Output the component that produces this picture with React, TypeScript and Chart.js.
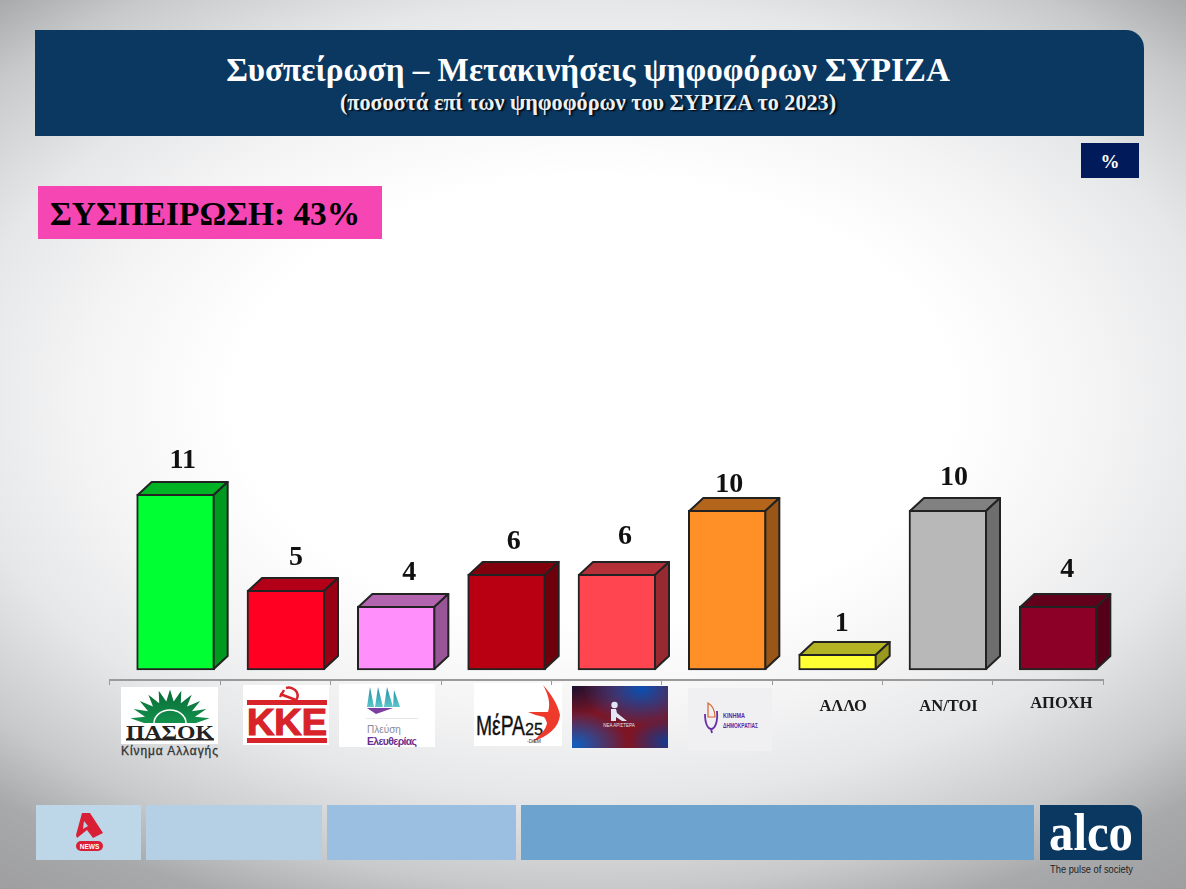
import { useEffect, useRef } from 'react';
import { Chart, registerables } from 'chart.js';

Chart.register(...registerables);

const categories = ['ΠΑΣΟΚ', 'ΚΚΕ', 'Πλεύση Ελευθερίας', 'ΜέΡΑ25', 'Νέα Αριστερά', 'Κίνημα Δημοκρατίας', 'ΑΛΛΟ', 'ΑΝ/ΤΟΙ', 'ΑΠΟΧΗ'];
const values = [11, 5, 4, 6, 6, 10, 1, 10, 4];
const barColors = ['#00ff33', '#ff0022', '#ff8ffa', '#b80012', '#ff4550', '#ff9027', '#ffff33', '#b8b8b8', '#8c0028'];

// the source slide has hand placed labels, so each one gets its own nudge
const valueNudgeX = [0, 3, 6, 0, 1, -5, -3, -1, 2];
const valueNudgeY = [0, 1, 0, 1, -4, 8, 3, 1, -3];
const textLabelNudgeX = [0, 0, 0, 0, 0, 0, 16, 11, 13.5];
const textLabelY = [0, 0, 0, 0, 0, 0, 707, 707, 704];

const SERIF = '"Liberation Serif", "DejaVu Serif", serif';
const SANS = '"Liberation Sans", Arial, sans-serif';
const FRONT_SHIFT = 10.5;
const DEPTH_X = 14;
const DEPTH_Y = 13;

function shade(hex: string, k: number) {
  const n = parseInt(hex.slice(1), 16);
  const r = Math.round(((n >> 16) & 255) * k);
  const g = Math.round(((n >> 8) & 255) * k);
  const b = Math.round((n & 255) * k);
  return `rgb(${r},${g},${b})`;
}

// front faces are the library's bars, moved a little right; the 3D sides hang off them
const box3d = {
  id: 'box3d',
  beforeDatasetDraw(chart: any) {
    chart.ctx.save();
    chart.ctx.translate(FRONT_SHIFT, 0);
  },
  afterDatasetDraw(chart: any) {
    const ctx = chart.ctx;
    ctx.lineWidth = 2;
    ctx.lineJoin = 'round';
    ctx.strokeStyle = '#222';
    chart.getDatasetMeta(0).data.forEach((el: any, i: number) => {
      const left = el.x - el.width / 2 + 1;
      const right = el.x + el.width / 2 - 1;
      const top = el.y + 1;
      const bottom = el.base - 1;

      ctx.fillStyle = shade(barColors[i], 0.7);
      ctx.beginPath();
      ctx.moveTo(left, top);
      ctx.lineTo(left + DEPTH_X, top - DEPTH_Y);
      ctx.lineTo(right + DEPTH_X, top - DEPTH_Y);
      ctx.lineTo(right, top);
      ctx.closePath();
      ctx.fill();
      ctx.stroke();

      ctx.fillStyle = shade(barColors[i], 0.6);
      ctx.beginPath();
      ctx.moveTo(right, top);
      ctx.lineTo(right + DEPTH_X, top - DEPTH_Y);
      ctx.lineTo(right + DEPTH_X, bottom - DEPTH_Y);
      ctx.lineTo(right, bottom);
      ctx.closePath();
      ctx.fill();
      ctx.stroke();
    });
    ctx.restore();
  },
  afterDraw(chart: any) {
    const ctx = chart.ctx;
    ctx.save();
    ctx.textAlign = 'center';
    ctx.textBaseline = 'middle';
    ctx.fillStyle = '#111';
    ctx.font = `bold 28px ${SERIF}`;
    chart.getDatasetMeta(0).data.forEach((el: any, i: number) => {
      const x = el.x + FRONT_SHIFT + 7 + valueNudgeX[i];
      const y = el.y - DEPTH_Y - 20 + valueNudgeY[i];
      ctx.fillText(String(values[i]), x, y);
    });
    ctx.font = `bold 16.5px ${SERIF}`;
    ctx.fillStyle = '#1a1a1a';
    categories.forEach((name, i) => {
      if (!textLabelY[i]) return; // the first six are logos
      ctx.fillText(name, chart.scales.x.getPixelForValue(i) + textLabelNudgeX[i], textLabelY[i]);
    });
    ctx.restore();
  },
};

function Logos() {
  const rays: string[] = [];
  for (let i = 0; i <= 22; i++) {
    const a = Math.PI + (i / 22) * Math.PI;
    const r = i % 2 === 1 ? 40 : 26;
    rays.push(`${170 + r * Math.cos(a)},${723 + r * 0.84 * Math.sin(a)}`);
  }
  return (
    <svg width={1186} height={889} style={{ position: 'absolute', left: 0, top: 0 }}>
      <defs>
        <radialGradient id="naBlueA" cx="0.72" cy="0.05" r="0.6">
          <stop offset="0" stopColor="#0a4fb0" />
          <stop offset="1" stopColor="#0a4fb0" stopOpacity="0" />
        </radialGradient>
        <radialGradient id="naBlueB" cx="0.03" cy="0.95" r="0.55">
          <stop offset="0" stopColor="#0f5fc0" />
          <stop offset="1" stopColor="#0f5fc0" stopOpacity="0" />
        </radialGradient>
        <radialGradient id="naBlueC" cx="1" cy="0.9" r="0.4">
          <stop offset="0" stopColor="#123c90" />
          <stop offset="1" stopColor="#123c90" stopOpacity="0" />
        </radialGradient>
        <radialGradient id="naDark" cx="0" cy="0" r="0.5">
          <stop offset="0" stopColor="#1a1030" />
          <stop offset="1" stopColor="#1a1030" stopOpacity="0" />
        </radialGradient>
        <linearGradient id="sail" x1="0" y1="0" x2="0" y2="1">
          <stop offset="0" stopColor="#1f8fa6" />
          <stop offset="1" stopColor="#5cc6c9" />
        </linearGradient>
        <linearGradient id="sun" x1="0" y1="0" x2="0" y2="1">
          <stop offset="0" stopColor="#0a6b36" />
          <stop offset="1" stopColor="#12914c" />
        </linearGradient>
      </defs>

      {/* ΠΑΣΟΚ */}
      <rect x={121} y={687} width={97} height={57} fill="#fff" />
      <polygon points={rays.join(' ')} fill="url(#sun)" />
      <path d="M154 723 A16 13 0 0 1 186 723" fill="none" stroke="#fff" strokeWidth={1.5} />
      <text x={170} y={739} textAnchor="middle" fontFamily={SERIF} fontWeight="bold" fontSize={18} textLength={88} lengthAdjust="spacingAndGlyphs" fill="#222">ΠΑΣΟΚ</text>
      <rect x={126} y={739} width={88} height={1.5} fill="#222" />
      <text x={169.5} y={755} textAnchor="middle" fontFamily={SANS} fontSize={12} textLength={97} fill="#333" stroke="#333" strokeWidth={0.3}>Κίνημα Αλλαγής</text>

      {/* ΚΚΕ */}
      <rect x={243} y={685} width={86} height={60} fill="#fff" />
      <rect x={247} y={700} width={80} height={5} fill="#d8232a" />
      <rect x={247} y={738} width={80} height={5} fill="#d8232a" />
      <text x={287} y={735} textAnchor="middle" fontFamily={SANS} fontWeight="bold" fontSize={36} textLength={80} lengthAdjust="spacingAndGlyphs" fill="#d8232a" stroke="#d8232a" strokeWidth={1.2}>ΚΚΕ</text>
      <path d="M286 688 A9 8 0 1 1 282 701 M280 694 L296 700 M284 690 L280 697" fill="none" stroke="#d8232a" strokeWidth={2.5} />

      {/* Πλεύση Ελευθερίας */}
      <rect x={339} y={684} width={96} height={63} fill="#fff" />
      <polygon points="367,707 370,687 374,707" fill="url(#sail)" />
      <polygon points="375,707 378,687 383,707" fill="url(#sail)" />
      <polygon points="384,707 387,687 393,707" fill="url(#sail)" />
      <polygon points="393,707 394,690 400,707" fill="url(#sail)" />
      <polygon points="367,708 393,708 376,714" fill="#7a3fa0" />
      <rect x={366} y={718} width={52} height={1} fill="#e6e6e6" />
      <text x={367} y={733} fontFamily={SANS} fontSize={10} fill="#8a8a9a">Πλεύση</text>
      <text x={367} y={745} fontFamily={SANS} fontWeight="bold" fontSize={10.5} textLength={50} fill="#6a2f8f">Ελευθερίας</text>

      {/* ΜέΡΑ25 */}
      <rect x={474} y={683} width={88} height={63} fill="#fff" />
      <text x={476} y={735} fontFamily={SANS} fontSize={28} textLength={49} lengthAdjust="spacingAndGlyphs" fill="#111" stroke="#111" strokeWidth={0.4}>ΜέΡΑ</text>
      <text x={525} y={735} fontFamily={SANS} fontSize={16} textLength={18} lengthAdjust="spacingAndGlyphs" fill="#111" stroke="#111" strokeWidth={0.3}>25</text>
      <path d="M543 685 C552 695 558 705 560 715 C559 727 549 736 532 742 C540 735 546 730 547 723 C546 720 545 718 544 717 C538 716 533 714 528 712 C535 712 542 712 548 712 C551 703 548 694 543 685 Z" fill="#ee3a2c" />
      <text x={527} y={743} fontFamily={SANS} fontSize={5} textLength={14} fill="#333">-DiEM</text>

      {/* Νέα Αριστερά */}
      <rect x={572} y={686} width={96} height={62} fill="#7d1525" />
      <rect x={572} y={686} width={96} height={62} fill="url(#naDark)" />
      <rect x={572} y={686} width={96} height={62} fill="url(#naBlueA)" />
      <rect x={572} y={686} width={96} height={62} fill="url(#naBlueB)" />
      <rect x={572} y={686} width={96} height={62} fill="url(#naBlueC)" />
      <circle cx={614.5} cy={705} r={3.2} fill="#e3e6f3" />
      <path d="M611 709 L616 709 L617 713 L627 721 L622 721 L616 717 L616 721 L611 721 Z" fill="#e3e6f3" />
      <text x={619} y={727} textAnchor="middle" fontFamily={SANS} fontSize={4.5} fill="#e3e6f3">ΝΕΑ ΑΡΙΣΤΕΡΑ</text>

      {/* Κίνημα Δημοκρατίας */}
      <rect x={688} y={688} width={84} height={63} fill="#f0f0f3" />
      <path d="M705 714 C705 724 708 729 711 729 C715 729 718 722 717 711 M711 729 L712 733" fill="none" stroke="#6a2da8" strokeWidth={1.8} />
      <path d="M708 703 L708 717 L715 717 C715 711 713 706 708 703 Z" fill="none" stroke="#d8632a" strokeWidth={1.2} />
      <text x={723} y={718} fontFamily={SANS} fontWeight="bold" fontSize={8} textLength={22} lengthAdjust="spacingAndGlyphs" fill="#5a2aa0">ΚΙΝΗΜΑ</text>
      <text x={723} y={728} fontFamily={SANS} fontWeight="bold" fontSize={8} textLength={35} lengthAdjust="spacingAndGlyphs" fill="#5a2aa0">ΔΗΜΟΚΡΑΤΙΑΣ</text>

      {/* footer */}
      <rect x={36} y={805} width={105} height={55} fill="#bdd7e9" />
      <rect x={146} y={805} width={176} height={55} fill="#b5cfe5" />
      <rect x={327} y={805} width={189} height={55} fill="#9abfe0" />
      <rect x={521} y={805} width={513} height={55} fill="#6da3cf" />
      <path d="M82 813 L90 813 L103 833 L93 838 L87 830 L77 838 L76 835 Z" fill="#d91f35" />
      <path d="M84 821 L88 826 L83 829 Z" fill="#bdd7e9" />
      <rect x={76} y={841} width={27} height={10} rx={5} fill="#d91f35" />
      <text x={89.5} y={848.5} textAnchor="middle" fontFamily={SANS} fontWeight="bold" fontSize={6.5} fill="#fff">NEWS</text>
      <path d="M1040 805 H1130 A12 12 0 0 1 1142 817 V860 H1040 Z" fill="#0b3861" />
      <text x={1091} y={850} textAnchor="middle" fontFamily={SERIF} fontWeight="bold" fontSize={53} textLength={84} lengthAdjust="spacingAndGlyphs" fill="#fff">alco</text>
      <text x={1091.5} y={873} textAnchor="middle" fontFamily={SANS} fontSize={10.5} textLength={83} lengthAdjust="spacingAndGlyphs" fill="#222">The pulse of society</text>
    </svg>
  );
}

export default function App() {
  const canvasRef = useRef<HTMLCanvasElement>(null);

  useEffect(() => {
    document.body.style.margin = '0';
    if (!canvasRef.current) return;

    const chart = new Chart(canvasRef.current, {
      type: 'bar',
      data: {
        labels: categories,
        datasets: [
          {
            data: values,
            backgroundColor: barColors,
            borderColor: '#222',
            borderWidth: 2,
            borderSkipped: false,
            barThickness: 78,
            clip: false as any,
          },
        ],
      },
      options: {
        responsive: false,
        animation: false,
        layout: { padding: { left: 110, right: 83, top: 480, bottom: 204 } },
        plugins: { legend: { display: false }, tooltip: { enabled: false } },
        scales: {
          x: {
            grid: { drawOnChartArea: false, color: '#9a9a9a', tickLength: 5 },
            border: { color: '#9a9a9a', width: 2 },
            ticks: { display: false },
          },
          // the floor of the 3D boxes sits 10px above the axis line
          y: { display: false, min: -0.625, max: 11.875 },
        },
      },
      plugins: [box3d],
    });

    return () => {
      chart.destroy();
    };
  }, []);

  return (
    <div
      style={{
        position: 'relative',
        width: 1186,
        height: 889,
        overflow: 'hidden',
        fontFamily: SERIF,
        background:
          'radial-gradient(ellipse 850px 530px at 50% 45%, #ffffff 42%, #f4f4f5 60%, #e6e7e8 75%, #c8c9cb 92%, #a8a9ab 103%, #9e9ea1 116%)',
      }}
    >
      <div
        style={{
          position: 'absolute',
          left: 35,
          top: 30,
          width: 1109,
          height: 106,
          background: '#0b3861',
          borderTopRightRadius: 18,
          color: '#fff',
          textAlign: 'center',
          fontWeight: 'bold',
        }}
      >
        <div style={{ position: 'absolute', left: 0, width: 1106, top: 20, fontSize: 33.15, lineHeight: '40px', whiteSpace: 'nowrap' }}>
          Συσπείρωση – Μετακινήσεις ψηφοφόρων ΣΥΡΙΖΑ
        </div>
        <div
          style={{
            position: 'absolute',
            left: 0,
            width: 1106,
            top: 61,
            fontSize: 22.2,
            lineHeight: '24px',
            whiteSpace: 'nowrap',
            color: '#eef1f4',
            textShadow: '2px 1px 2px #000',
          }}
        >
          (ποσοστά επί των ψηφοφόρων του ΣΥΡΙΖΑ το 2023)
        </div>
      </div>
      <div
        style={{
          position: 'absolute',
          left: 1081,
          top: 143,
          width: 58,
          height: 35,
          background: '#001a5a',
          color: '#fff',
          fontWeight: 'bold',
          fontSize: 19,
          lineHeight: '37px',
          textAlign: 'center',
        }}
      >
        %
      </div>
      <div
        style={{
          position: 'absolute',
          left: 38,
          top: 186,
          width: 344,
          height: 53,
          background: '#f546b4',
          color: '#000',
          fontWeight: 'bold',
          fontSize: 33.4,
          lineHeight: '55px',
          paddingLeft: 12,
          boxSizing: 'border-box',
          whiteSpace: 'nowrap',
        }}
      >
        ΣΥΣΠΕΙΡΩΣΗ: 43%
      </div>
      <Logos />
      <canvas ref={canvasRef} width={1186} height={889} style={{ position: 'absolute', left: 0, top: 0 }} />
    </div>
  );
}
